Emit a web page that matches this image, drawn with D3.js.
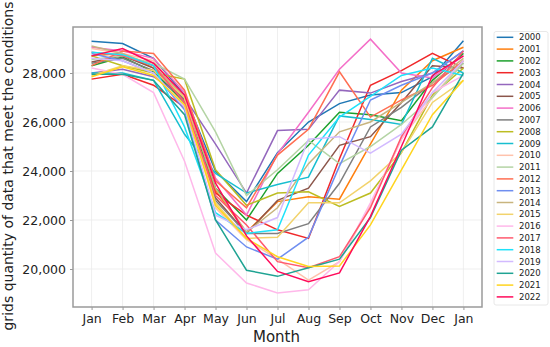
<!DOCTYPE html>
<html>
<head>
<meta charset="utf-8">
<script src="https://cdn.jsdelivr.net/npm/d3@7"></script>
<style>
  body { margin: 0; background: #fff; }
  text { font-family: "DejaVu Sans", sans-serif; }
</style>
</head>
<body>
<div class="chart"></div>
<script>
// month labels (13 points, Jan repeated at the end)
const months = ["Jan", "Feb", "Mar", "Apr", "May", "Jun", "Jul", "Aug", "Sep", "Oct", "Nov", "Dec", "Jan"];
const yTicks = [20000, 22000, 24000, 26000, 28000];
const years = ["2000", "2001", "2002", "2003", "2004", "2005", "2006", "2007", "2008", "2009", "2010",
  "2011", "2012", "2013", "2014", "2015", "2016", "2017", "2018", "2019", "2020", "2021", "2022"];

const y2000 = [29300, 29200, 28600, 27100, 24000, 22750, 24750, 26000, 26750, 27100, 27200, 27850, 29320];
const y2001 = [28700, 28800, 28200, 26900, 23200, 21500, 22750, 22950, 22850, 25100, 27300, 28500, 29050];
const y2002 = [28300, 28650, 28050, 26800, 23300, 22000, 23900, 25050, 26400, 26300, 26050, 27700, 28800];
const y2003 = [27750, 27950, 27500, 26600, 23100, 22200, 21600, 21250, 24500, 27500, 28100, 28800, 28200];
const y2004 = [28000, 28150, 27850, 27000, 25100, 23100, 25650, 25700, 27300, 27180, 27650, 28000, 28900];
const y2005 = [28450, 28700, 28200, 26800, 22900, 21450, 22800, 23300, 25050, 25400, 26800, 28300, 28200];
const y2006 = [29050, 28900, 28600, 27200, 23700, 22200, 24700, 26400, 28150, 29380, 28000, 27800, 28700];
const y2007 = [28400, 28600, 28100, 26900, 22800, 21450, 21450, 21850, 23500, 25800, 26600, 27600, 28400];
const y2008 = [28700, 28300, 28000, 27750, 24050, 22600, 23100, 23150, 22550, 23100, 24750, 27100, 28200];
const y2009 = [28000, 28000, 27700, 25500, 23900, 23100, 23450, 23750, 26250, 26100, 25900, 28600, 28000];
const y2010 = [29000, 28800, 28500, 27000, 22500, 21200, 20400, 19550, 20300, 22600, 25300, 27000, 28500];
const y2011 = [28550, 28700, 28400, 27750, 25600, 23000, 24050, 25250, 24300, 25000, 25900, 27000, 28400];
const y2012 = [28300, 28900, 28800, 27300, 23600, 22500, 24650, 25700, 28050, 26200, 26900, 27500, 28500];
const y2013 = [28800, 28500, 28000, 26500, 22000, 20900, 20400, 21300, 24200, 26900, 27500, 28000, 28900];
const y2014 = [29100, 28800, 28300, 27000, 23300, 21500, 22500, 24300, 25600, 26000, 26800, 27600, 28600];
const y2015 = [27900, 28300, 28100, 27000, 22700, 21250, 21300, 22700, 22700, 23600, 24750, 26800, 27700];
const y2016 = [28200, 27950, 27200, 24400, 20650, 19430, 19020, 19150, 20300, 22700, 25300, 27200, 27900];
const y2017 = [28850, 28700, 28300, 26800, 23000, 21800, 20300, 20050, 20500, 22500, 25400, 27400, 28900];
const y2018 = [28850, 28750, 28300, 25800, 22300, 21450, 21600, 24650, 26200, 27050, 27900, 28200, 27900];
const y2019 = [28600, 28500, 28000, 26600, 22200, 21600, 22100, 25300, 25400, 24730, 25500, 27200, 28500];
const y2020 = [27950, 27950, 27700, 26300, 22000, 19950, 19700, 20050, 20400, 22100, 24850, 25800, 28000];
const y2021 = [27850, 28250, 27900, 26700, 22600, 21250, 20500, 20100, 20120, 21800, 24050, 26300, 27700];
const y2022 = [28700, 29000, 28400, 27100, 23500, 21350, 19900, 19480, 19840, 22150, 25000, 27900, 28700];

const seriesValues = [y2000, y2001, y2002, y2003, y2004, y2005, y2006, y2007, y2008, y2009, y2010,
  y2011, y2012, y2013, y2014, y2015, y2016, y2017, y2018, y2019, y2020, y2021, y2022];

const colors = ["#1f77b4", "#ff7f0e", "#1ca02c", "#f0282a", "#9467bd", "#8c564b", "#f46fc8", "#7f7f7f",
  "#bcbd22", "#17becf", "#ffc2ac", "#b4d4a4", "#ff6e52", "#6f8ef0", "#c8b47e", "#f2d36c",
  "#ffb8ea", "#ff5a6e", "#1ee2fa", "#d2baff", "#1fa393", "#ffd41e", "#ff0a5a"];

const margin = { top: 27, right: 68, bottom: 40, left: 73 },
  width = 550 - margin.left - margin.right,
  height = 347 - margin.top - margin.bottom;

const svg = d3.select(".chart")
  .append("svg")
  .attr("width", 550)
  .attr("height", 347)
  .append("g")
  .attr("transform", `translate(${margin.left},${margin.top})`);

const x = d3.scaleLinear()
  .domain([-0.6, months.length - 1 + 0.6])
  .range([0, width]);

const y = d3.scaleLinear()
  .domain([18449, 29878])
  .range([height, 0]);

// grid
svg.append("g")
  .selectAll("line")
  .data(months.map((m, i) => i))
  .join("line")
  .attr("x1", d => x(d)).attr("x2", d => x(d))
  .attr("y1", 0).attr("y2", height)
  .attr("stroke", "#ebebeb").attr("stroke-width", 0.8);

svg.append("g")
  .selectAll("line")
  .data(yTicks)
  .join("line")
  .attr("x1", 0).attr("x2", width)
  .attr("y1", d => y(d)).attr("y2", d => y(d))
  .attr("stroke", "#ebebeb").attr("stroke-width", 0.8);

// axes
const xAxis = svg.append("g")
  .attr("transform", `translate(0, ${height})`)
  .call(d3.axisBottom(x).tickValues(months.map((m, i) => i)).tickFormat(i => months[i]).tickSize(3).tickPadding(4));

const yAxis = svg.append("g")
  .call(d3.axisLeft(y).tickValues(yTicks).tickFormat(d3.format(",")).tickSize(3).tickPadding(4));

[xAxis, yAxis].forEach(a => {
  a.select(".domain").remove();
  a.selectAll(".tick line").attr("stroke", "#999");
  a.selectAll(".tick text").style("font-size", "12.5px").attr("fill", "#222");
});

// lines
const line = d3.line()
  .x((d, i) => x(i))
  .y(d => y(d));

svg.selectAll(".line")
  .data(seriesValues)
  .join("path")
  .attr("class", "line")
  .attr("fill", "none")
  .attr("stroke", (d, i) => colors[i])
  .attr("stroke-width", 1.5)
  .attr("d", d => line(d));

// frame
svg.append("rect")
  .attr("x", 0).attr("y", 0)
  .attr("width", width).attr("height", height)
  .attr("fill", "none")
  .attr("stroke", "#9a9a9a")
  .attr("stroke-width", 1.5);

// axis labels
svg.append("text")
  .attr("x", width / 2 - 1)
  .attr("y", height + 35)
  .attr("text-anchor", "middle")
  .style("font-size", "15px")
  .attr("fill", "#222")
  .text("Month");

svg.append("text")
  .attr("transform", `translate(${-60}, ${height / 2 - 1}) rotate(-90)`)
  .attr("text-anchor", "middle")
  .style("font-size", "14px")
  .attr("fill", "#222")
  .text("grids quantity of data that meet the conditions");

// legend
const legend = svg.append("g")
  .attr("transform", `translate(${494 - margin.left}, ${31.5 - margin.top})`);

legend.append("rect")
  .attr("x", 0).attr("y", 0)
  .attr("width", 54).attr("height", 273.5)
  .attr("rx", 2)
  .attr("fill", "#fff")
  .attr("stroke", "#e2e2e2")
  .attr("stroke-width", 0.8);

const items = legend.selectAll(".item")
  .data(years)
  .join("g")
  .attr("class", "item")
  .attr("transform", (d, i) => `translate(0, ${5.8 + i * 11.8})`);

items.append("line")
  .attr("x1", 2.7).attr("x2", 19.3)
  .attr("stroke", (d, i) => colors[i])
  .attr("stroke-width", 1.5);

items.append("text")
  .attr("x", 25)
  .attr("y", 0)
  .attr("dominant-baseline", "central")
  .style("font-size", "8.5px")
  .attr("fill", "#222")
  .text(d => d);
</script>
</body>
</html>
